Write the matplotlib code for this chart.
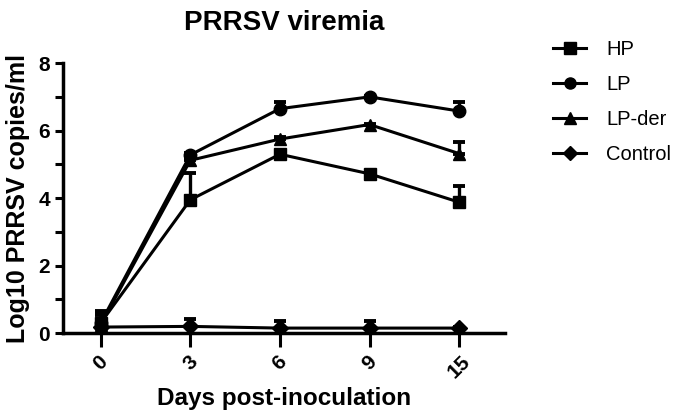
import matplotlib
matplotlib.use("Agg")
import matplotlib.pyplot as plt
import numpy as np
from matplotlib.ticker import MultipleLocator
from matplotlib.lines import Line2D

plt.rcParams['font.family'] = ['Liberation Sans', 'DejaVu Sans']

days = ["0", "3", "6", "9", "15"]
hp = [0.30, 3.95, 5.30, 4.72, 3.88]
hp_err = [0.30, 0.80, 0.05, 0.05, 0.47]
lp = [0.30, 5.28, 6.65, 7.00, 6.58]
lp_err = [0.35, 0.05, 0.20, 0.03, 0.27]
lpder = [0.25, 5.12, 5.75, 6.18, 5.32]
lpder_err = [0.30, 0.05, 0.05, 0.03, 0.33]
control = [0.18, 0.20, 0.15, 0.15, 0.15]
control_err = [0.20, 0.22, 0.20, 0.20, 0.02]

series = [("HP", hp, hp_err, "s"), ("LP", lp, lp_err, "o"),
          ("LP-der", lpder, lpder_err, "^"), ("Control", control, control_err, "D")]

fig = plt.figure(figsize=(6.85, 4.18), dpi=100)
ax = fig.add_axes([0.092, 0.203, 0.645, 0.646])
x = np.arange(len(days))
for name, vals, err, m in series:
    ms = 9 if m != "D" else 8
    ax.errorbar(x, vals, yerr=[np.zeros(len(err)), err], color="black", marker=m,
                markersize=ms, linewidth=2.2, elinewidth=2.4, capsize=4.5, capthick=2.8,
                label=name)

ax.set_xlim(-0.42, 4.51)
ax.set_ylim(0, 8)
ax.set_xticks(x)
ax.set_xticklabels(days, rotation=45, fontsize=15, fontweight="bold")
ax.yaxis.set_major_locator(MultipleLocator(2))
ax.yaxis.set_minor_locator(MultipleLocator(1))
for lab in ax.get_yticklabels():
    lab.set_fontweight("bold")
    lab.set_fontsize(15)
ax.tick_params(axis="y", which="both", width=2.2, length=6)
ax.tick_params(axis="x", width=2.2, length=10)
for s in ["top", "right"]:
    ax.spines[s].set_visible(False)
for s in ["left", "bottom"]:
    ax.spines[s].set_linewidth(2.5)

ax.set_title("PRRSV viremia", fontsize=20, fontweight="bold", pad=24)
ax.set_ylabel("Log10 PRRSV copies/ml", fontsize=18, fontweight="bold", labelpad=6)
ax.set_xlabel("Days post-inoculation", fontsize=17.5, fontweight="bold")

hs = [Line2D([], [], color="black", marker=m, markersize=8 if m != "D" else 7, linewidth=2.2)
      for _, _, _, m in series]
fig.legend(hs, [s[0] for s in series], loc="upper left", bbox_to_anchor=(0.781, 0.948),
           frameon=False, fontsize=14.5, handlelength=1.65, handletextpad=1.0,
           labelspacing=0.8)

fig.savefig("out.png", dpi=100)
